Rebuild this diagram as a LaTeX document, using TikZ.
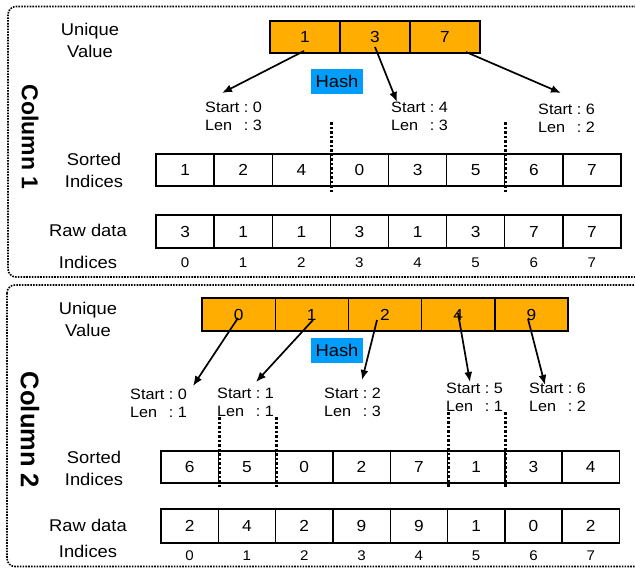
\documentclass[tikz,border=0pt]{standalone}
\usepackage{fontspec}
\setmainfont{Liberation Sans}[FakeStretch=1.08]
\newfontfamily\colfont{Liberation Sans}
\usetikzlibrary{arrows.meta}
\definecolor{orng}{RGB}{255,173,0}
\definecolor{hashblue}{RGB}{0,158,250}
\tikzset{
  cellbox/.style={draw=black, line width=1.4pt, inner sep=0pt, font=\fontsize{16}{16}\selectfont},
  uvbox/.style={cellbox, fill=orng},
  lbl/.style={align=center, inner sep=0pt, font=\fontsize{17}{22}\selectfont},
  idx/.style={inner sep=0pt, font=\fontsize{14}{14}\selectfont},
  info/.style={anchor=west, inner sep=0pt, font=\fontsize{15}{18}\selectfont},
  hashbox/.style={fill=hashblue, minimum width=52pt, minimum height=25pt, inner sep=0pt, font=\fontsize{17}{17}\selectfont},
  arr/.style={line width=1.7pt, -{Latex[length=10pt,width=8pt]}},
  sepline/.style={line width=3pt, dash pattern=on 2.5pt off 2pt},
  frame/.style={line width=1.6pt, dash pattern=on 1.6pt off 1.2pt, rounded corners=8pt},
  collbl/.style={rotate=-90, inner sep=0pt},
}
\newcommand{\infotext}[2]{\begin{tabular}{@{}l@{~:~}l@{}}Start&#1\\Len&#2\end{tabular}}
\begin{document}
\begin{tikzpicture}[x=1pt,y=-1pt]
\useasboundingbox (0,0) rectangle (635,568);
\clip (0,0) rectangle (635,568);
% frames
\draw[frame] (8,6.5) rectangle (660,277);
\draw[frame] (7,285) rectangle (660,566.5);

% ---------------- Column 1 ----------------
\node[collbl, font=\colfont\bfseries\fontsize{23}{23}\selectfont] (col1) at (30,137) {Column 1};
\node[lbl] (uv1) at (90,40) {Unique\\Value};
\foreach \v [count=\i] in {1,3,7}
  \node[uvbox, minimum width=70pt, minimum height=32pt] (c1u\i) at ({270+70*(\i-0.5)},37) {\v};
\node[hashbox] (h1) at (337,81.5) {Hash};
\node[info] (i1a) at (205,117.5) {\infotext{0}{3}};
\node[info] (i1b) at (391,117.5) {\infotext{4}{3}};
\node[info] (i1c) at (538,119.5) {\infotext{6}{2}};
\coordinate (a11s) at (304,51);  \coordinate (a11t) at (222,93);
\coordinate (a12s) at (375,47);  \coordinate (a12t) at (397,102);
\coordinate (a13s) at (466,52);  \coordinate (a13t) at (561,93);
\draw[arr] (a11s) -- (a11t);
\draw[arr] (a12s) -- (a12t);
\draw[arr] (a13s) -- (a13t);
\node[lbl] (so1) at (94,170) {Sorted\\Indices};
\foreach \v [count=\i from 0] in {1,2,4,0,3,5,6,7}
  \node[cellbox, minimum width=58.125pt, minimum height=32pt] (c1s\i) at ({156+58.125*(\i+0.5)},170) {\v};
\node[lbl] (rd1) at (88,230) {Raw data};
\foreach \v [count=\i from 0] in {3,1,1,3,1,3,7,7}
  \node[cellbox, minimum width=58.125pt, minimum height=33pt] (c1r\i) at ({156+58.125*(\i+0.5)},231.5) {\v};
\node[lbl] (ix1) at (88,262) {Indices};
\foreach \i in {0,...,7}
  \node[idx] (c1i\i) at ({156+58.125*(\i+0.5)},263) {\i};
\draw[sepline] ([yshift=31pt]c1s2.north east) -- ([yshift=-6pt]c1s2.south east);
\draw[sepline] ([yshift=31pt]c1s5.north east) -- ([yshift=-6pt]c1s5.south east);

% ---------------- Column 2 ----------------
\node[collbl, font=\colfont\bfseries\fontsize{25.5}{26}\selectfont] (col2) at (30,430) {Column 2};
\node[lbl] (uv2) at (88,319.5) {Unique\\Value};
\foreach \v [count=\i] in {0,1,2,4,9}
  \node[uvbox, minimum width=73.2pt, minimum height=33pt] (c2u\i) at ({202+73.2*(\i-0.5)},314.5) {\v};
\node[hashbox] (h2) at (337,350.5) {Hash};
\node[info] (i2a) at (130,404.6) {\infotext{0}{1}};
\node[info] (i2b) at (217,403.6) {\infotext{1}{1}};
\node[info] (i2c) at (324,403.6) {\infotext{2}{3}};
\node[info] (i2d) at (446,399) {\infotext{5}{1}};
\node[info] (i2e) at (529,399) {\infotext{6}{2}};
\coordinate (a21s) at (238,318); \coordinate (a21t) at (193,386);
\coordinate (a22s) at (313,320); \coordinate (a22t) at (256,382);
\coordinate (a23s) at (377,320); \coordinate (a23t) at (362,380);
\coordinate (a24s) at (458,313); \coordinate (a24t) at (470,382);
\coordinate (a25s) at (528,319); \coordinate (a25t) at (545,385);
\draw[arr] (a21s) -- (a21t);
\draw[arr] (a22s) -- (a22t);
\draw[arr] (a23s) -- (a23t);
\draw[arr] (a24s) -- (a24t);
\draw[arr] (a25s) -- (a25t);
\node[lbl] (so2) at (94,468) {Sorted\\Indices};
\foreach \v [count=\i from 0] in {6,5,0,2,7,1,3,4}
  \node[cellbox, minimum width=57.3pt, minimum height=32pt] (c2s\i) at ({161+57.3*(\i+0.5)},467) {\v};
\node[lbl] (rd2) at (88,525) {Raw data};
\foreach \v [count=\i from 0] in {2,4,2,9,9,1,0,2}
  \node[cellbox, minimum width=57.3pt, minimum height=34pt] (c2r\i) at ({161+57.3*(\i+0.5)},526) {\v};
\node[lbl] (ix2) at (88,551) {Indices};
\foreach \i in {0,...,7}
  \node[idx] (c2i\i) at ({161+57.3*(\i+0.5)},556) {\i};
\draw[sepline] ([yshift=33pt]c2s0.north east) -- ([yshift=-5pt]c2s0.south east);
\draw[sepline] ([yshift=33pt]c2s1.north east) -- ([yshift=-5pt]c2s1.south east);
\draw[sepline] ([yshift=38pt]c2s4.north east) -- ([yshift=-5pt]c2s4.south east);
\draw[sepline] ([yshift=38pt]c2s5.north east) -- ([yshift=-5pt]c2s5.south east);
\end{tikzpicture}
\end{document}
